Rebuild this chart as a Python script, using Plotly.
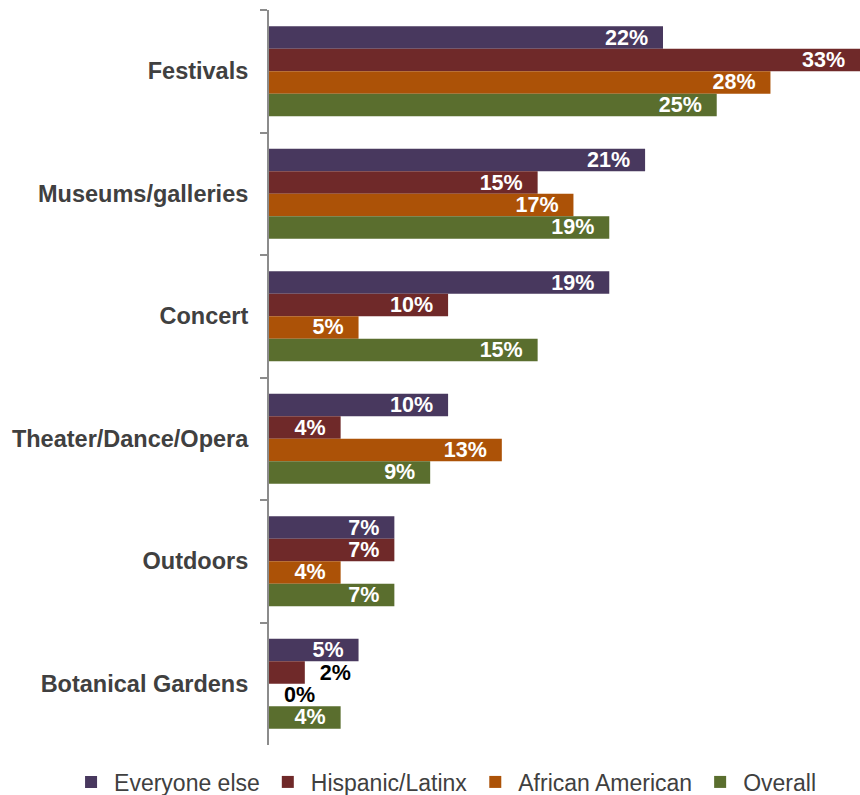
import plotly.graph_objects as go

# Survey shares by activity type and group (percent)
categories = ["Festivals", "Museums/galleries", "Concert",
              "Theater/Dance/Opera", "Outdoors", "Botanical Gardens"]
everyone_else = [22, 21, 19, 10, 7, 5]
hispanic_latinx = [33, 15, 10, 4, 7, 2]
african_american = [28, 17, 5, 13, 4, 0]
overall = [25, 19, 15, 9, 7, 4]

series = [
    ("Everyone else", everyone_else, "#48385E"),
    ("Hispanic/Latinx", hispanic_latinx, "#6F2929"),
    ("African American", african_american, "#AC5207"),
    ("Overall", overall, "#5A6E2E"),
]

FONT = "Liberation Sans, Arial, sans-serif"
NBSP = "\u00a0"

fig = go.Figure()
for name, vals, color in series:
    inside = [v >= 3 for v in vals]
    fig.add_trace(go.Bar(
        name=name,
        y=categories,
        x=vals,
        orientation="h",
        marker=dict(color=color, line=dict(width=0)),
        text=[f"{v}%" + NBSP * 2 if ins else NBSP * 2 + f"{v}%"
              for v, ins in zip(vals, inside)],
        textposition=["inside" if ins else "outside" for ins in inside],
        insidetextanchor="end",
        constraintext="none",
        cliponaxis=False,
        textfont=dict(family=FONT, size=21.5, weight="bold",
                      color=["white" if ins else "black" for ins in inside]),
        hoverinfo="skip",
    ))

fig.update_layout(
    width=860, height=795,
    margin=dict(l=269, r=0, t=10, b=50, autoexpand=False),
    paper_bgcolor="white", plot_bgcolor="white",
    barmode="group", bargap=0.266, bargroupgap=0,
    showlegend=True,
    legend=dict(
        orientation="h",
        x=-0.340, xanchor="left",
        y=-0.0503, yanchor="middle",
        itemwidth=36,
        font=dict(family=FONT, size=23, color="#404040"),
        traceorder="normal", itemclick=False,
    ),
    xaxis=dict(range=[0, 33], visible=False, fixedrange=True),
    yaxis=dict(
        autorange="reversed",
        showline=True, linecolor="#8C8C8C", linewidth=2,
        ticks="outside", ticklen=7, tickwidth=2, tickcolor="#8C8C8C",
        tickson="boundaries",
        showgrid=False, zeroline=False,
        ticklabelstandoff=14,
        tickfont=dict(family=FONT, size=23.5, weight="bold", color="#404040"),
    ),
)

fig.write_html("out.html")
